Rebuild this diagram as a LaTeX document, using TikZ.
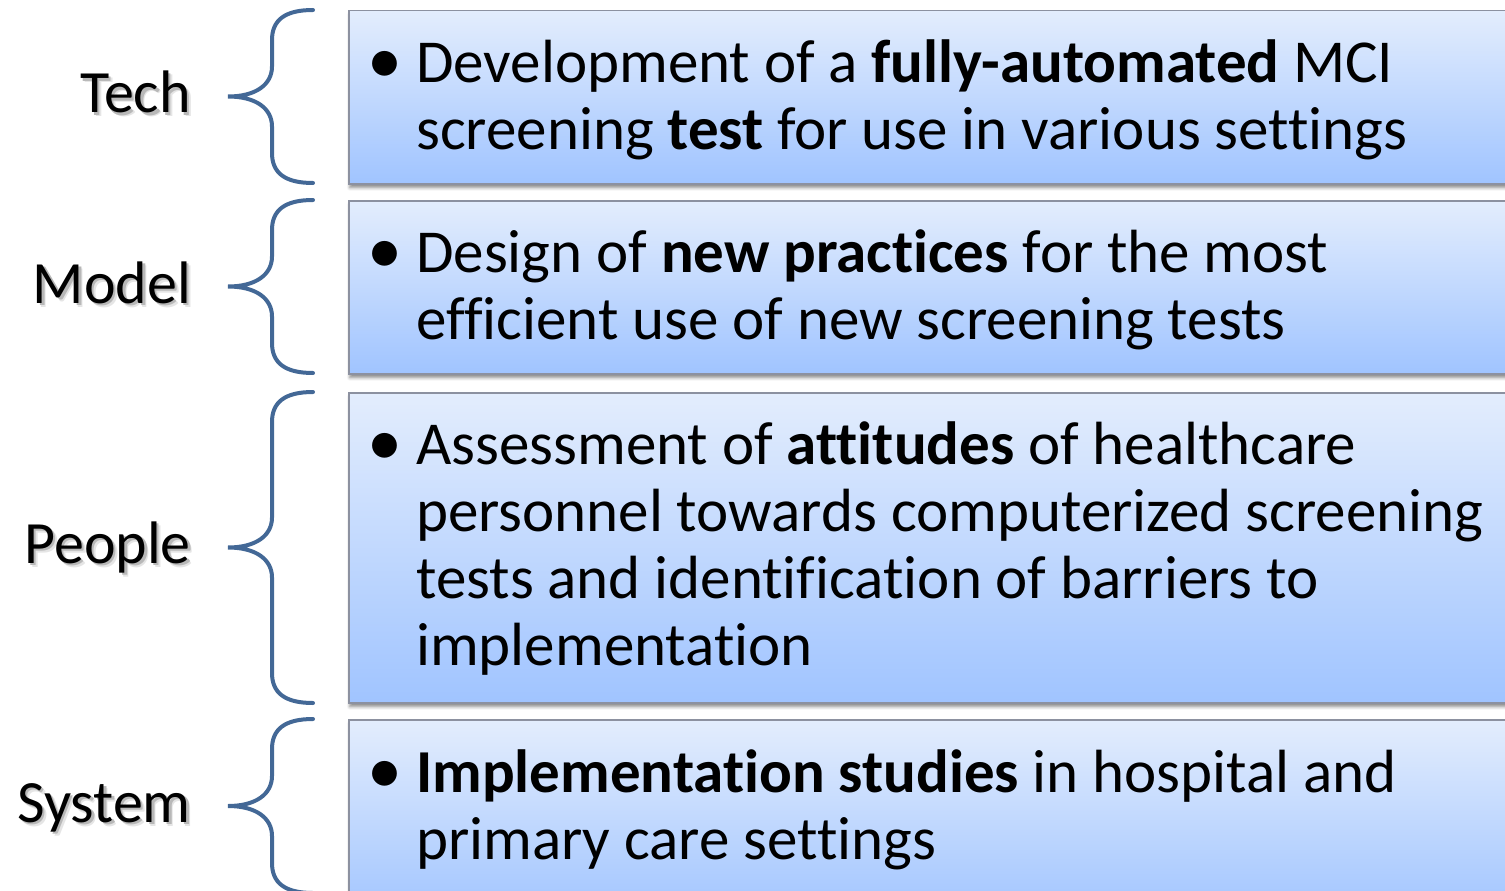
\documentclass[tikz,border=0pt]{standalone}
\usepackage{fontspec}
\setmainfont{Carlito}[Ligatures=NoCommon]
\usetikzlibrary{shadows.blur}

\definecolor{bracecol}{RGB}{67,104,150}
\definecolor{boxtop}{RGB}{227,237,253}
\definecolor{boxbot}{RGB}{160,196,255}
\definecolor{boxline}{RGB}{140,145,160}

% natural interword spacing inside ragged nodes
\newcommand\natspace{\spaceskip=0pt\xspaceskip=0pt\relax}

\tikzset{
  stagebox/.style={draw=boxline, line width=1.5pt, top color=boxtop, bottom color=boxbot,
    anchor=north west, minimum width=1250pt, inner sep=0pt,
    blur shadow={shadow xshift=1pt, shadow yshift=-4pt, shadow blur radius=3pt, shadow opacity=45}},
  bigtext/.style={font=\fontsize{61}{67}\selectfont},
  itemtext/.style={bigtext, anchor=base west, inner sep=0pt, text width=1120pt, align=left},
  bulletmark/.style={bigtext, anchor=base west, inner sep=0pt},
  stagelabel/.style={font=\fontsize{60}{67}\selectfont, anchor=base east, inner sep=0pt},
  bracepath/.style={draw=bracecol, line width=4pt, line cap=round},
}

% curly brace from #1 (top) to #2 (bottom), tip pointing left
\newcommand\stagebrace[2]{%
  \pgfmathsetmacro\bt{#1}\pgfmathsetmacro\bb{#2}%
  \pgfmathsetmacro\bm{(#1+#2)/2}%
  \pgfmathsetmacro\ba{\bt+30}\pgfmathsetmacro\bc{\bm-30}%
  \pgfmathsetmacro\bd{\bm+30}\pgfmathsetmacro\be{\bb-30}%
  \draw[bracepath] (313,\bt) .. controls (285,\bt) and (272,{\bt+10}) .. (272,\ba)
    -- (272,\bc) .. controls (272,{\bm-12}) and (256,\bm) .. (228,\bm)
    .. controls (256,\bm) and (272,{\bm+12}) .. (272,\bd)
    -- (272,\be) .. controls (272,{\bb-10}) and (285,\bb) .. (313,\bb);
}

% label text with a soft drop shadow behind it
\newcommand\shadowed[1]{%
  \makebox[0pt][l]{\raisebox{-4pt}{\kern4pt\textcolor{black!10}{#1}}}%
  \makebox[0pt][l]{\raisebox{-2.5pt}{\kern2.5pt\textcolor{black!28}{#1}}}%
  #1}

% slightly enlarged list bullet
\newcommand\bigbullet{\raisebox{-1pt}{\scalebox{1.15}{\textbullet}}}

\begin{document}
\begin{tikzpicture}[x=1pt, y=-1pt]
\useasboundingbox (0,0) rectangle (1505,891);

% boxes
\node[stagebox, minimum height=173pt] (b1) at (348,10) {};
\node[stagebox, minimum height=173pt] (b2) at (348,200) {};
\node[stagebox, minimum height=310pt] (b3) at (348,392) {};
\node[stagebox, minimum height=200pt] (b4) at (348,719) {};

% braces
\stagebrace{10}{183}
\stagebrace{200}{373}
\stagebrace{392}{703}
\stagebrace{719}{893}

% labels
\node[stagelabel] (tech) at (191,113) {\shadowed{Tech}};
\node[stagelabel] (model) at (191,303) {\shadowed{Model}};
\node[stagelabel] (people) at (191,563) {\shadowed{People}};
\node[stagelabel] (system) at (191,822) {\shadowed{System}};

% box contents
\node[bulletmark] (d1) at (367,82) {\bigbullet};
\node[itemtext] (t1) at (416,82) {\natspace Development of a \textbf{fully-automated} MCI\\screening \textbf{test} for use in various settings};

\node[bulletmark] (d2) at (367,272) {\bigbullet};
\node[itemtext] (t2) at (416,272) {\natspace Design of \textbf{new practices} for the most\\efficient use of new screening tests};

\node[bulletmark] (d3) at (367,464) {\bigbullet};
\node[itemtext] (t3) at (416,464) {\natspace Assessment of \textbf{attitudes} of healthcare\\personnel towards computerized screening\\tests and identification of barriers to\\implementation};

\node[bulletmark] (d4) at (367,792) {\bigbullet};
\node[itemtext] (t4) at (416,792) {\natspace\textbf{Implementation studies} in hospital and\\primary care settings};
\end{tikzpicture}
\end{document}
